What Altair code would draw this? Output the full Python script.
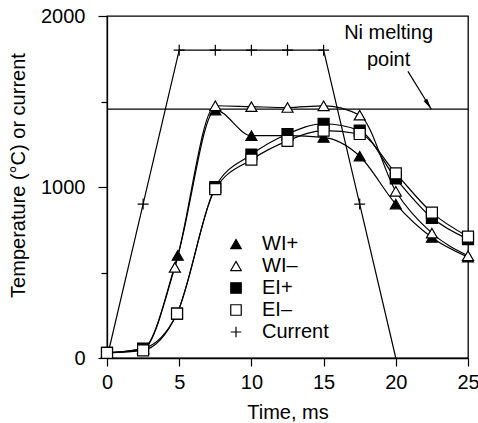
import altair as alt
import pandas as pd

FONT = "Liberation Sans"

# Series names, in legend order
SERIES = ["WI+", "WI–", "EI+", "EI–", "Current"]

# Sample times (ms) and measured values for each series
wi_plus_t = [0, 2.5, 4.9, 7.5, 10, 12.5, 15, 17.5, 20, 22.5, 25]
wi_plus_v = [30, 55, 600, 1450, 1300, 1300, 1290, 1180, 900, 705, 590]

wi_minus_t = [0, 2.5, 4.7, 7.5, 10, 12.5, 15, 17.5, 20, 22.5, 25]
wi_minus_v = [30, 50, 530, 1475, 1470, 1465, 1475, 1420, 975, 730, 598]

ei_plus_t = [0, 2.5, 4.85, 7.5, 10, 12.5, 15, 17.5, 20, 22.5, 25]
ei_plus_v = [30, 55, 260, 1000, 1190, 1310, 1370, 1330, 1050, 820, 695]

ei_minus_t = [0, 2.5, 4.85, 7.5, 10, 12.5, 15, 17.5, 20, 22.5, 25]
ei_minus_v = [30, 45, 260, 988, 1160, 1270, 1330, 1310, 1080, 850, 710]

current_t = [0, 2.5, 5, 7.5, 10, 12.5, 15, 17.5, 20]
current_v = [0, 900, 1800, 1800, 1800, 1800, 1800, 900, 0]

# Nickel melting point and its annotation
NI_MELT = 1455
note_text = ["Ni melting\npoint"]
note_t = [19.5]
note_v = [1864]
arrow_t = [20.84]
arrow_v = [1676]
arrow_t2 = [22.46]
arrow_v2 = [1455]

rows = []
for name, ts, vs in [
    ("WI+", wi_plus_t, wi_plus_v),
    ("WI–", wi_minus_t, wi_minus_v),
    ("EI+", ei_plus_t, ei_plus_v),
    ("EI–", ei_minus_t, ei_minus_v),
    ("Current", current_t, current_v),
]:
    rows += [{"series": name, "t": a, "v": b} for a, b in zip(ts, vs)]
df = pd.DataFrame(rows)

melt_df = pd.DataFrame({"v": [NI_MELT]})
note_df = pd.DataFrame({"t": note_t, "v": note_v, "label": note_text})
arrow_df = pd.DataFrame({"t": arrow_t, "v": arrow_v, "t2": arrow_t2, "v2": arrow_v2})

x_scale = alt.Scale(domain=[0, 25], nice=False, zero=False)
y_scale = alt.Scale(domain=[0, 2000], nice=False)

x_axis = alt.Axis(
    values=[0, 2.5, 5, 7.5, 10, 12.5, 15, 17.5, 20, 22.5, 25],
    labelExpr="datum.value % 5 === 0 ? datum.label : ''",
    tickSize={"condition": {"test": "datum.value % 5 === 0", "value": 8}, "value": 5},
    labelPadding=6,
    labelFlush=False,
    title="Time, ms",
    titleY=60,
    titleBaseline="alphabetic",
    grid=False,
)
y_axis = alt.Axis(
    values=[0, 500, 1000, 1500, 2000],
    labelExpr="datum.value % 1000 === 0 ? datum.label : ''",
    tickSize={"condition": {"test": "datum.value % 1000 === 0", "value": 9}, "value": 6},
    labelPadding=13,
    labelFlush=False,
    format="d",
    title="Temperature (°C) or current",
    titleX=-82.5,
    titleY=159,
    titleAngle=-90,
    titleAlign="center",
    titleBaseline="alphabetic",
    grid=False,
)

X = alt.X("t:Q", scale=x_scale, axis=x_axis)
Y = alt.Y("v:Q", scale=y_scale, axis=y_axis)

melt_rule = alt.Chart(melt_df).mark_rule(color="black", strokeWidth=1.3).encode(
    y=alt.Y("v:Q", scale=y_scale)
)

arrow_shaft = alt.Chart(arrow_df).mark_rule(color="black", strokeWidth=1.2).encode(
    x=alt.X("t:Q", scale=x_scale), y=alt.Y("v:Q", scale=y_scale),
    x2="t2:Q", y2="v2:Q",
)
arrow_head = alt.Chart(arrow_df).mark_point(
    shape="M0,0L0.4,2L-0.4,2Z", filled=True, color="black", opacity=1,
    size=121, angle=147.4,
).encode(x=alt.X("t2:Q", scale=x_scale), y=alt.Y("v2:Q", scale=y_scale))

note = alt.Chart(note_df).mark_text(
    font=FONT, fontSize=20, align="center", baseline="alphabetic",
    lineBreak="\n", lineHeight=27, color="black",
).encode(x=alt.X("t:Q", scale=x_scale), y=alt.Y("v:Q", scale=y_scale), text="label:N")

temp_lines = alt.Chart(df).transform_filter("datum.series !== 'Current'").mark_line(
    interpolate="monotone", color="black", strokeWidth=1.2
).encode(x=X, y=Y, detail="series:N")

current_line = alt.Chart(df).transform_filter("datum.series === 'Current'").mark_line(
    color="black", strokeWidth=1.2
).encode(x=X, y=Y)

legend = alt.Legend(
    title=None, orient="none", legendX=119, legendY=218, padding=0,
    labelFont=FONT, labelFontSize=20, labelColor="black", labelOffset=16,
    symbolSize=110, symbolStrokeWidth=1.2,
    rowPadding=2,
)

points = alt.Chart(df).transform_filter(
    "datum.series !== 'Current' || (datum.t > 0 && datum.t < 20)"
).mark_point(filled=True, strokeWidth=1.2, opacity=1, size=121).encode(
    x=X, y=Y,
    shape=alt.Shape("series:N", sort=SERIES, scale=alt.Scale(
        domain=SERIES,
        range=["triangle-up", "triangle-up", "square", "square", "M-1,0L1,0M0,-1L0,1"],
    ), legend=legend),
    fill=alt.Fill("series:N", sort=SERIES, scale=alt.Scale(
        domain=SERIES,
        range=["black", "white", "black", "white", "transparent"],
    ), legend=legend),
    stroke=alt.Stroke("series:N", sort=SERIES, scale=alt.Scale(
        domain=SERIES,
        range=["black", "black", "black", "black", "black"],
    ), legend=legend),
)

chart = alt.layer(
    melt_rule, arrow_shaft, arrow_head, note, temp_lines, current_line, points
).properties(
    width=361, height=342,
    autosize=alt.AutoSizeParams(type="none"),
    padding={"left": 107, "top": 16, "right": 10, "bottom": 65},
    background="white",
).configure_view(
    stroke="black", strokeWidth=1.3
).configure_axis(
    labelFont=FONT, labelFontSize=20, labelColor="black",
    titleFont=FONT, titleFontSize=20, titleColor="black", titleFontWeight="normal",
    domainColor="black", domainWidth=1.3, tickColor="black", tickWidth=1.2,
)

chart.save("out.html", embed_options={"renderer": "svg", "actions": False})
